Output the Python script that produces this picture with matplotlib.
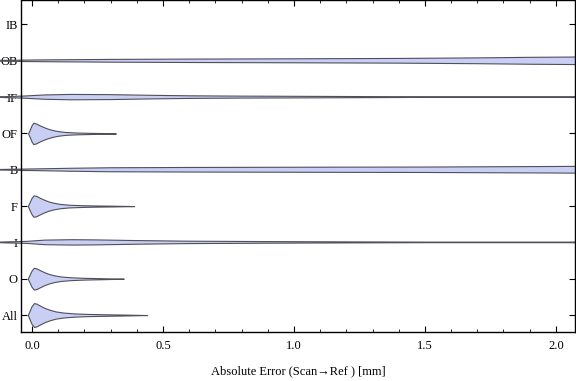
import numpy as np
import matplotlib
matplotlib.use("Agg")
import matplotlib.pyplot as plt
from matplotlib.ticker import MultipleLocator, FormatStrFormatter

# categories, bottom to top
cats = ["All", "O", "I", "F", "B", "OF", "IF", "OB", "IB"]

# violin outlines: value [mm] and half width (category units)
all_x = [-0.016, -0.009, -0.002, 0.008, 0.018, 0.033, 0.05, 0.07, 0.09, 0.12, 0.16, 0.21, 0.27, 0.34, 0.44]
all_w = [0.0, 0.12, 0.24, 0.33, 0.31, 0.25, 0.19, 0.14, 0.10, 0.068, 0.045, 0.031, 0.022, 0.014, 0.0]
o_x = [-0.016, -0.009, -0.002, 0.007, 0.017, 0.032, 0.048, 0.065, 0.085, 0.11, 0.15, 0.2, 0.26, 0.35]
o_w = [0.0, 0.11, 0.22, 0.30, 0.285, 0.23, 0.175, 0.13, 0.092, 0.062, 0.038, 0.024, 0.015, 0.0]
f_x = [-0.016, -0.009, -0.002, 0.006, 0.016, 0.031, 0.047, 0.063, 0.083, 0.105, 0.14, 0.19, 0.25, 0.31, 0.39]
f_w = [0.0, 0.11, 0.22, 0.295, 0.28, 0.225, 0.172, 0.128, 0.09, 0.062, 0.038, 0.024, 0.015, 0.01, 0.0]
of_x = [-0.015, -0.008, -0.002, 0.005, 0.015, 0.03, 0.045, 0.06, 0.08, 0.1, 0.13, 0.17, 0.22, 0.27, 0.32]
of_w = [0.0, 0.11, 0.22, 0.294, 0.275, 0.22, 0.173, 0.132, 0.091, 0.063, 0.038, 0.025, 0.016, 0.011, 0.0]
ob_x = [-0.125, 0.0, 0.1, 0.3, 0.6, 1.0, 1.4, 1.7, 1.9, 2.1, 2.2]
ob_w = [0.01, 0.022, 0.028, 0.038, 0.047, 0.055, 0.065, 0.08, 0.095, 0.105, 0.105]
if_x = [-0.125, -0.03, 0.05, 0.15, 0.3, 0.45, 0.6, 0.8, 1.0, 1.3, 1.5, 2.2]
if_w = [0.008, 0.03, 0.06, 0.074, 0.068, 0.05, 0.036, 0.027, 0.022, 0.014, 0.008, 0.008]
b_x = [-0.125, 0.0, 0.15, 0.3, 0.6, 1.0, 1.5, 2.0, 2.2]
b_w = [0.008, 0.022, 0.041, 0.055, 0.063, 0.069, 0.075, 0.09, 0.1]
i_x = [-0.125, -0.02, 0.05, 0.15, 0.25, 0.4, 0.6, 0.9, 1.2, 1.5, 2.2]
i_w = [0.008, 0.028, 0.063, 0.074, 0.068, 0.05, 0.033, 0.022, 0.014, 0.008, 0.008]

shapes = {"All": (all_x, all_w), "O": (o_x, o_w), "I": (i_x, i_w),
          "F": (f_x, f_w), "B": (b_x, b_w), "OF": (of_x, of_w),
          "IF": (if_x, if_w), "OB": (ob_x, ob_w)}

plt.rcParams["font.family"] = ["Liberation Serif", "DejaVu Serif"]
plt.rcParams["font.size"] = 9

fig = plt.figure(figsize=(5.76, 3.81), dpi=100)
ax = fig.add_axes([21 / 576, 49 / 381, 554 / 576, 331.5 / 381])

for pos, name in enumerate(cats, start=1):
    if name not in shapes:
        continue
    xs, ws = shapes[name]
    xs = np.array(xs)
    ws = np.array(ws)
    ax.fill_between(xs, pos - ws, pos + ws, facecolor="#c9cef5",
                    edgecolor="#50505a", linewidth=0.8, clip_on=False, zorder=2)

ax.set_xlim(-0.042, 2.073)
ax.set_ylim(0.533, 9.66)
ax.set_yticks(range(1, len(cats) + 1))
ax.set_yticklabels(cats)
ax.xaxis.set_major_locator(MultipleLocator(0.5))
ax.xaxis.set_minor_locator(MultipleLocator(0.1))
ax.xaxis.set_major_formatter(FormatStrFormatter("%.1f"))
ax.tick_params(which="both", direction="in", top=True, right=True, color="black")
ax.tick_params(which="major", length=4, width=0.8)
ax.tick_params(axis="x", which="major", pad=6)
ax.tick_params(axis="y", which="major", pad=2.5)
ax.tick_params(which="minor", length=2.5, width=0.6)
ax.tick_params(axis="y", which="minor", left=False, right=False)
for s in ax.spines.values():
    s.set_linewidth(1.0)
ax.set_xlabel("Absolute Error (Scan\u2192Ref ) [mm]", labelpad=9)

fig.savefig("out.png", dpi=100)
